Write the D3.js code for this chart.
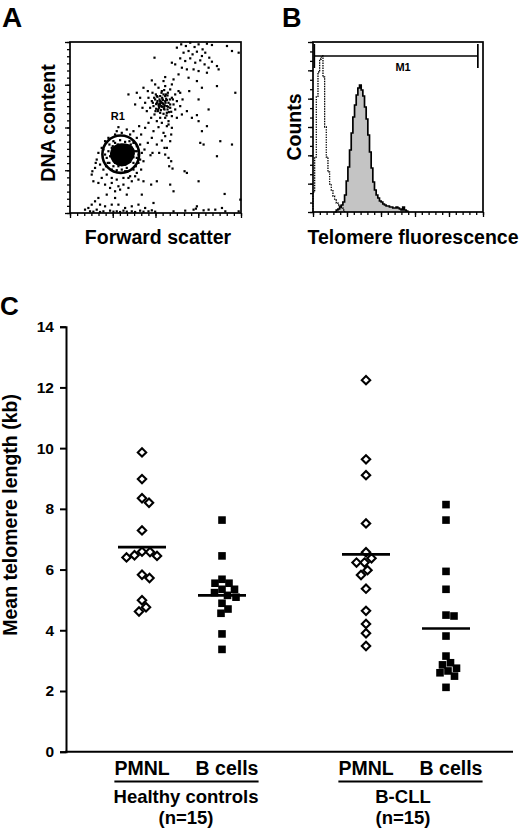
<!DOCTYPE html>
<html>
<head>
<meta charset="utf-8">
<script src="https://cdn.jsdelivr.net/npm/d3@7"></script>
<style>
    body { margin: 0; background: #fff; }
    text { font-family: "Liberation Sans", Arial, sans-serif; font-weight: bold; fill: #000; }
</style>
</head>
<body>
<svg id="figure" width="520" height="828"></svg>
<script>
// ---------- panel A: forward scatter vs DNA content (channels, 0-512)
const scatterEvents = [
    // upper cluster
    [320,495],[333,505],[347,500],[360,510],[373,497],[385,505],[397,490],[410,507],[425,503],[340,480],
    [355,485],[367,475],[380,483],[395,470],[405,480],[417,465],[330,463],[345,455],[360,463],[375,450],
    [390,457],[403,445],[415,435],[425,453],[315,445],[305,450],[335,435],[350,430],[370,430],[385,425],
    [440,440],[445,430],[410,420],[380,395],[355,405],[325,415],[470,500],[485,485],[505,480],[253,465],
    [395,375],[440,380],[495,360],[330,360],[357,365],[385,340],[415,310],
    // middle cluster
    [275,330],[270,335],[280,325],[265,325],[285,335],[273,320],[260,330],[290,320],[277,340],[267,315],
    [283,310],[255,340],[295,330],[270,350],[285,350],[250,320],[300,315],[263,305],[280,297],[290,300],
    [245,335],[257,355],[275,365],[293,360],[305,345],[310,325],[303,303],[285,285],[270,285],[253,295],
    [240,315],[235,345],[247,360],[265,375],[285,380],[300,370],[315,355],[320,335],[315,310],[305,290],
    [295,275],[275,270],[260,275],[243,285],[230,305],[225,330],[233,365],[255,385],[280,395],[305,385],
    [325,365],[330,320],[320,285],[290,260],[265,257],[235,270],[217,315],[210,345],[220,375],[245,397],
    [285,407],[310,400],[337,340],[335,295],[305,255],[280,240],[250,245],[225,255],[200,360],[195,325],
    [175,355],[285,230],[303,235],[300,215],[290,195],[285,175],[295,165],[303,155],[297,140],[307,133],
    [278,338],[268,328],[288,342],[262,348],[282,318],[272,308],[292,352],[258,312],
    [272,332],[279,328],[268,340],[284,322],[276,345],[262,335],[290,338],[281,312],[266,320],[294,318],
    [258,326],[287,355],[274,360],[299,340],[252,345],[270,300],[289,292],[300,325],[256,305],[280,355],
    [264,310],[296,302],[248,330],[282,368],[308,340],[276,318],[286,330],[270,326],[260,350],[292,310],
    // scattered events
    [350,305],[365,285],[380,293],[385,275],[395,245],[410,260],[390,210],[400,205],[450,215],[485,205],
    [440,170],[350,120],[343,125],[385,95],[463,57],[510,40],[400,8],[415,10],[310,65],[300,85],
    [435,10],[377,13],[345,7],[380,20],[310,5],[283,195],[260,205],[247,180],[233,210],[213,235],
    [207,260],[190,245],[170,250],[243,85],[260,95],[295,265],[245,225],[275,217],[223,190],[241,173],
    [267,180],[190,210],[185,195],[200,185],[250,30],[215,55],[370,10],[455,15],[465,5],[505,5],
    // R1 population
    [155,175],[150,180],[160,170],[145,173],[165,180],[153,165],[157,185],[143,185],[170,170],[147,160],
    [163,157],[135,175],[175,177],[155,195],[140,195],[170,190],[180,165],[130,163],[150,150],[165,145],
    [135,150],[180,153],[125,180],[185,180],[160,203],[143,205],[175,200],[120,170],[190,167],[145,140],
    [170,135],[130,140],[190,150],[115,185],[195,185],[155,130],[125,195],[185,195],[110,165],[200,165],
    [135,210],[165,213],[113,150],[197,140],[153,185],[159,161],[148,169],[162,178],[151,157],[167,167],
    [141,180],[156,172],[145,165],[171,183],[137,167],[161,190],[149,193],[173,157],[133,185],[179,185],
    [152,172],[158,178],[161,174],[154,168],[149,176],[163,171],[157,166],[151,183],[166,174],[146,170],
    [159,182],[155,160],[168,163],[142,176],[172,172],[150,163],[162,186],[139,170],[176,168],[156,188],
    [128,200],[182,205],[205,175],[105,175],[118,150],[190,130],[140,128],[170,125],[205,150],[100,190],
    [200,200],[125,130],[178,215],[130,215],[210,160],[108,140],[118,205],[192,212],[150,218],[165,125],
    // around R1 and low debris
    [105,215],[95,195],[85,180],[80,160],[90,145],[100,130],[110,115],[125,105],[140,100],[160,105],
    [180,110],[200,120],[213,130],[220,155],[215,180],[210,205],[200,225],[180,235],[155,240],[135,235],
    [115,225],[75,135],[65,115],[70,95],[85,90],[105,85],[120,75],[135,65],[145,80],[160,85],
    [175,75],[185,95],[205,100],[220,95],[67,125],[77,150],[95,105],[125,90],[150,70],[170,55],
    [135,45],[110,55],[85,45],[75,35],[90,25],[105,20],[125,25],[145,25],[165,15],[185,20],
    [205,25],[225,15],[55,15],[45,10],[60,5],[80,10],[100,5],[120,7],[140,5],[160,7],
    [185,5],[210,7],[235,5],[145,257],[140,245],[65,25],[175,105],[195,110],[70,4],[90,3],
    [130,4],[150,3],[170,4],[195,3],[220,4],[245,8],[255,4]
];
const r1Gate = [152, 176, 55, 56];   // centre x, centre y, radius x, radius y (channels)

// ---------- panel B: telomere fluorescence histograms (10-channel bins)
const binWidth = 10;
const sampleStart = 130;
const sampleCounts = [0, 2, 3, 5, 7, 10, 17, 31, 45, 62, 79, 95, 107, 117, 124, 127, 122, 116, 105, 93,
    77, 60, 44, 30, 22, 17, 14, 11, 10, 8, 7, 6, 6, 5, 5, 4, 4, 5, 4, 3, 2, 5, 2, 1, 0];
const controlStart = 0;
const controlCounts = [20, 55, 115, 140, 153, 156, 135, 85, 55, 40, 28, 22, 16, 12, 9, 7, 6, 4, 2, 0];
const m1Marker = [8, 992, 156];      // from channel, to channel, level (counts)

// ---------- panel C: mean telomere length (kb)
const groups = ["Healthy controls", "B-CLL"];
const groupN = ["(n=15)", "(n=15)"];
const cellTypes = ["PMNL", "B cells"];
const healthyPMNL = [9.86, 8.98, 8.35, 8.20, 7.29, 6.59, 6.58, 6.47, 6.45, 6.40, 5.83, 5.72, 4.99, 4.76, 4.62];
const healthyBcells = [7.63, 6.45, 5.68, 5.55, 5.55, 5.35, 5.35, 5.24, 5.15, 5.09, 4.89, 4.70, 4.56, 3.88, 3.37];
const cllPMNL = [12.24, 9.63, 9.11, 7.52, 6.57, 6.37, 6.23, 6.23, 5.98, 5.82, 5.37, 4.64, 4.21, 3.90, 3.48];
const cllBcells = [8.14, 7.63, 5.94, 5.35, 4.50, 4.47, 3.81, 3.15, 2.93, 2.86, 2.75, 2.66, 2.60, 2.49, 2.12];
const meanLength = [6.74, 5.15, 6.50, 4.06];
const yTicksC = [0, 2, 4, 6, 8, 10, 12, 14];

const svg = d3.select("svg#figure");

function tickAxis(g, axisFn, scale, values, size) {
    g.call(axisFn(scale).tickValues(values).tickSize(size).tickFormat(""))
        .call(a => a.select(".domain").remove())
        .selectAll("line").attr("stroke", "#000").attr("stroke-width", 1.3);
}

// ================= panel A
const aX = d3.scaleLinear().domain([0, 512]).range([70, 241]);
const aY = d3.scaleLinear().domain([0, 512]).range([213, 42]);
const panelA = svg.append("g").attr("id", "panelA");

panelA.append("g").selectAll("rect.ev").data(scatterEvents)
    .join("rect").attr("class", "ev")
    .attr("x", d => aX(d[0]) - 1.1)
    .attr("y", d => aY(d[1]) - 1.1)
    .attr("width", 2.2).attr("height", 2.2)
    .attr("fill", "#000");

// dense core of the gated R1 population
const inGate = d => ((d[0] - r1Gate[0]) / r1Gate[2]) ** 2 + ((d[1] - r1Gate[1]) / r1Gate[3]) ** 2 < 1;
const core = d3.contourDensity()
    .x(d => aX(d[0])).y(d => aY(d[1]))
    .size([520, 260]).bandwidth(3.2).thresholds([0.075])(scatterEvents.filter(inGate));
panelA.append("g").selectAll("path").data(core).join("path")
    .attr("d", d3.geoPath()).attr("fill", "#000");

panelA.append("ellipse")
    .attr("cx", aX(r1Gate[0])).attr("cy", aY(r1Gate[1]))
    .attr("rx", aX(r1Gate[2]) - aX(0)).attr("ry", aY(0) - aY(r1Gate[3]))
    .attr("fill", "none").attr("stroke", "#000").attr("stroke-width", 2.6);
panelA.append("text")
    .attr("x", aX(r1Gate[0]) - 3).attr("y", aY(r1Gate[1] + r1Gate[3]) - 16)
    .attr("text-anchor", "middle").attr("font-size", 11).text("R1");

panelA.append("rect")
    .attr("x", aX(0)).attr("y", aY(512))
    .attr("width", aX(512) - aX(0)).attr("height", aY(0) - aY(512))
    .attr("fill", "none").attr("stroke", "#000").attr("stroke-width", 1.7);

tickAxis(panelA.append("g").attr("transform", `translate(${aX(0)},0)`), d3.axisLeft, aY, d3.range(0, 513, 512 / 24), 3);
tickAxis(panelA.append("g").attr("transform", `translate(${aX(0)},0)`), d3.axisLeft, aY, [0, 128, 256, 384, 512], 5);
tickAxis(panelA.append("g").attr("transform", `translate(0,${aY(0)})`), d3.axisBottom, aX, d3.range(0, 513, 512 / 24), 3);
tickAxis(panelA.append("g").attr("transform", `translate(0,${aY(0)})`), d3.axisBottom, aX, [0, 128, 256, 384, 512], 5);

panelA.append("text").attr("x", 2).attr("y", 27).attr("font-size", 28).text("A");
panelA.append("text").attr("transform", "translate(55,123) rotate(-90)")
    .attr("text-anchor", "middle").attr("font-size", 19.5).text("DNA content");
panelA.append("text").attr("x", 158).attr("y", 244)
    .attr("text-anchor", "middle").attr("font-size", 19.5).text("Forward scatter");

// ================= panel B
const bX = d3.scaleLinear().domain([0, 1023]).range([313, 483]);
const bY = d3.scaleLinear().domain([0, 170]).range([212, 42]);
const panelB = svg.append("g").attr("id", "panelB");

const histArea = d3.area().curve(d3.curveStepAfter)
    .x(d => bX(d.ch)).y0(bY(0)).y1(d => bY(d.n));
const histLine = d3.line().curve(d3.curveStepAfter)
    .x(d => bX(d.ch)).y(d => bY(d.n));

const sampleBins = sampleCounts.map((n, i) => ({ ch: sampleStart + i * binWidth, n: n }));
const controlBins = controlCounts.map((n, i) => ({ ch: controlStart + i * binWidth, n: n }));
controlBins.unshift({ ch: controlStart, n: 0 });

panelB.append("path").datum(sampleBins).attr("d", histArea).attr("fill", "#c4c4c4");
panelB.append("path").datum(sampleBins).attr("d", histLine)
    .attr("fill", "none").attr("stroke", "#000").attr("stroke-width", 1.7);
panelB.append("path").datum(controlBins).attr("d", histLine)
    .attr("fill", "none").attr("stroke", "#000").attr("stroke-width", 1.3)
    .attr("stroke-dasharray", "1.4,1.1");

panelB.append("rect")
    .attr("x", bX(0)).attr("y", bY(170))
    .attr("width", bX(1023) - bX(0)).attr("height", bY(0) - bY(170))
    .attr("fill", "none").attr("stroke", "#000").attr("stroke-width", 1.7);

// M1 marker
const m1 = panelB.append("g").attr("stroke", "#000").attr("stroke-width", 1.7);
m1.append("line").attr("x1", bX(m1Marker[0])).attr("x2", bX(m1Marker[1]))
    .attr("y1", bY(m1Marker[2])).attr("y2", bY(m1Marker[2]));
m1.selectAll("line.end").data([m1Marker[0], m1Marker[1]]).join("line").attr("class", "end")
    .attr("x1", d => bX(d)).attr("x2", d => bX(d))
    .attr("y1", bY(m1Marker[2]) - 12).attr("y2", bY(m1Marker[2]) + 12);
panelB.append("text")
    .attr("x", bX((m1Marker[0] + m1Marker[1]) / 2) + 7).attr("y", bY(m1Marker[2]) + 15)
    .attr("text-anchor", "middle").attr("font-size", 11).text("M1");

tickAxis(panelB.append("g").attr("transform", `translate(${bX(0)},0)`), d3.axisLeft, bY, d3.range(0, 171, 170 / 18), 3);
tickAxis(panelB.append("g").attr("transform", `translate(${bX(0)},0)`), d3.axisLeft, bY, d3.range(0, 171, 170 / 6), 5);
tickAxis(panelB.append("g").attr("transform", `translate(0,${bY(0)})`), d3.axisBottom, bX, d3.range(0, 1024, 1023 / 25), 3);
tickAxis(panelB.append("g").attr("transform", `translate(0,${bY(0)})`), d3.axisBottom, bX, d3.range(0, 1024, 1023 / 5), 5);

panelB.append("text").attr("x", 282).attr("y", 27).attr("font-size", 27).text("B");
panelB.append("text").attr("transform", "translate(301,127) rotate(-90)")
    .attr("text-anchor", "middle").attr("font-size", 19.5).text("Counts");
panelB.append("text").attr("x", 413).attr("y", 244)
    .attr("text-anchor", "middle").attr("font-size", 19.5).text("Telomere fluorescence");

// ================= panel C
const cY = d3.scaleLinear().domain([0, 14]).range([751.7, 326.7]);
const groupScale = d3.scaleBand().domain(groups).range([70, 518]);
const cellScale = d3.scalePoint().domain(cellTypes).range([-40, 40]);
const colX = (g, c) => groupScale(g) + groupScale.bandwidth() / 2 + cellScale(c);

const panelC = svg.append("g").attr("id", "panelC");

const yAxisC = panelC.append("g").attr("transform", "translate(66,0)")
    .call(d3.axisLeft(cY).tickValues(yTicksC).tickSize(6).tickPadding(6));
yAxisC.select(".domain").attr("stroke-width", 2);
yAxisC.selectAll(".tick line").attr("stroke-width", 2);
yAxisC.selectAll(".tick text").attr("font-size", 15.5)
    .attr("font-family", "'Liberation Sans', Arial, sans-serif").attr("font-weight", "bold");

panelC.append("line").attr("x1", 65).attr("x2", 513)
    .attr("y1", cY(0)).attr("y2", cY(0))
    .attr("stroke", "#000").attr("stroke-width", 2);

// spread overlapping markers sideways
function dodge(values, x0, d) {
    const placed = [];
    return values.map(v => {
        const y = cY(v);
        let off = 0;
        for (let k = 0; k < 400; k++) {
            off = k === 0 ? 0 : (k % 2 ? 1 : -1) * Math.ceil(k / 2) * 0.5;
            const hit = placed.some(p => (p[0] - off) ** 2 + (p[1] - y) ** 2 < d * d);
            if (!hit) break;
        }
        placed.push([off, y]);
        return { x: x0 + off, y: y, v: v };
    });
}

const series = [
    { group: groups[0], cell: cellTypes[0], values: healthyPMNL, mean: meanLength[0] },
    { group: groups[0], cell: cellTypes[1], values: healthyBcells, mean: meanLength[1] },
    { group: groups[1], cell: cellTypes[0], values: cllPMNL, mean: meanLength[2] },
    { group: groups[1], cell: cellTypes[1], values: cllBcells, mean: meanLength[3] }
];

series.forEach(s => {
    const cx = colX(s.group, s.cell);
    const pts = dodge(s.values, cx, 8);
    if (s.cell === "PMNL") {
        panelC.append("g").selectAll("path").data(pts).join("path")
            .attr("d", "M0,-4.2L4.2,0L0,4.2L-4.2,0Z")
            .attr("transform", d => `translate(${d.x},${d.y})`)
            .attr("fill", "#fff").attr("stroke", "#000").attr("stroke-width", 2.1);
    } else {
        panelC.append("g").selectAll("rect").data(pts).join("rect")
            .attr("x", d => d.x - 3.8).attr("y", d => d.y - 3.8)
            .attr("width", 7.6).attr("height", 7.6).attr("fill", "#000");
    }
    panelC.append("line").attr("x1", cx - 24).attr("x2", cx + 24)
        .attr("y1", cY(s.mean)).attr("y2", cY(s.mean))
        .attr("stroke", "#000").attr("stroke-width", 2.6);
});

// category labels
groups.forEach((g, gi) => {
    const labels = cellTypes.map(c => panelC.append("text")
        .attr("x", colX(g, c) + (c === "B cells" ? 5 : 0)).attr("y", 775)
        .attr("text-anchor", "middle").attr("font-size", 19.5).text(c));
    const left = labels[0].node().getBBox();
    const right = labels[1].node().getBBox();
    panelC.append("line").attr("x1", left.x).attr("x2", right.x + right.width)
        .attr("y1", 781.5).attr("y2", 781.5).attr("stroke", "#000").attr("stroke-width", 2);
    const gx = groupScale(g) + groupScale.bandwidth() / 2 + (gi === 0 ? 4 : -3);
    panelC.append("text").attr("x", gx).attr("y", 803)
        .attr("text-anchor", "middle").attr("font-size", 18.5).text(g);
    panelC.append("text").attr("x", gx).attr("y", 824)
        .attr("text-anchor", "middle").attr("font-size", 18.5).text(groupN[gi]);
});

panelC.append("text").attr("x", 0).attr("y", 315).attr("font-size", 26).text("C");
panelC.append("text").attr("transform", `translate(17,${cY(7.8)}) rotate(-90)`)
    .attr("text-anchor", "middle").attr("font-size", 19.5).text("Mean telomere length (kb)");
</script>
</body>
</html>
